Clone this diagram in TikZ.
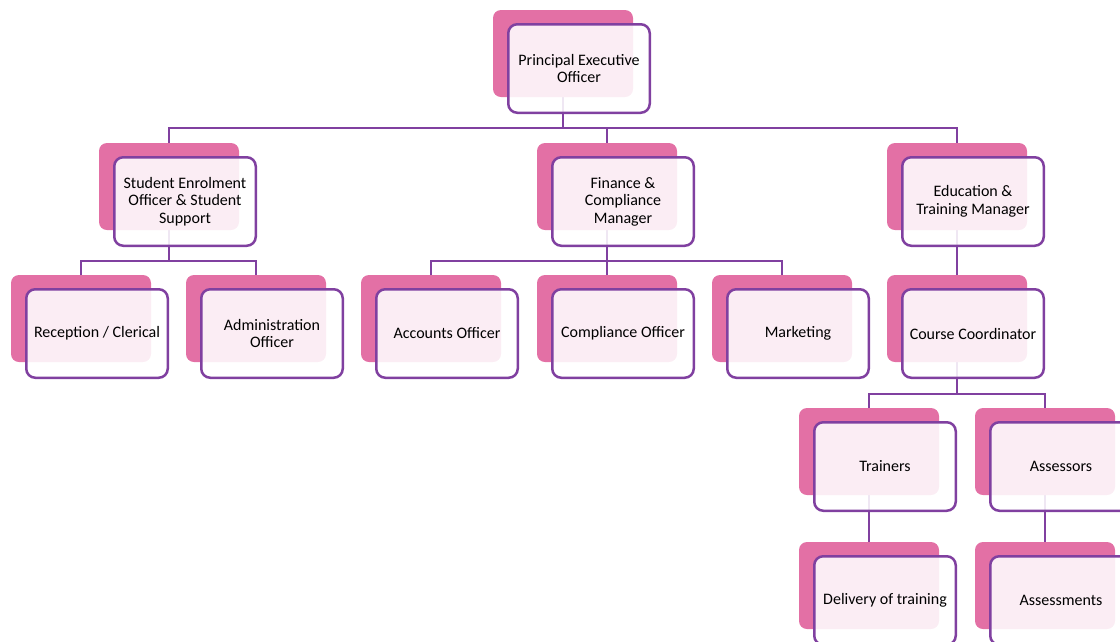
\documentclass[tikz,border=0pt]{standalone}
\usepackage{fontspec}
\setmainfont{Carlito}
\usetikzlibrary{calc}
\definecolor{pinkback}{RGB}{227,112,165}
\definecolor{purpline}{RGB}{128,64,160}
\pgfdeclarelayer{bg}
\pgfsetlayers{bg,main}
\tikzset{
  backbox/.style={fill=pinkback, draw=none, rounded corners=8pt, minimum width=140pt, minimum height=87pt, inner sep=0pt},
  frontbox/.style={fill=white, fill opacity=0.88, text opacity=1, draw=purpline, draw opacity=1, line width=2.5pt, rounded corners=9pt, minimum width=141.5pt, minimum height=88.5pt, inner sep=0pt, align=center, font=\fontsize{16}{17.6}\selectfont, text=black},
  conn/.style={draw=purpline, line width=2.5pt}
}
\newcommand\orgunit[4]{%
  \node[backbox] (#1b) at (#2+70,#3+43.5) {};
  \node[frontbox] (#1) at (#2+86,#3+58.5) {#4};
}
\begin{document}
\begin{tikzpicture}[x=1pt,y=-1pt]
\useasboundingbox (0,0) rectangle (1120,641);
\clip (0,0) rectangle (1120,641);
\orgunit{pe}{493}{10}{Principal Executive\\Officer}
\orgunit{se}{99}{143}{Student Enrolment\\Officer \& Student\\Support}
\orgunit{fc}{537}{143}{Finance \&\\Compliance\\Manager}
\orgunit{et}{887}{143}{Education \&\\Training Manager}
\orgunit{rc}{11}{275}{Reception / Clerical}
\orgunit{ad}{186}{275}{Administration\\Officer}
\orgunit{ac}{361}{275}{Accounts Officer}
\orgunit{co}{537}{275}{Compliance Officer}
\orgunit{mk}{712}{275}{Marketing}
\orgunit{cc}{887}{275}{Course Coordinator}
\orgunit{tr}{799}{408}{Trainers}
\orgunit{as}{975}{408}{Assessors}
\orgunit{dt}{799}{542}{Delivery of training}
\orgunit{am}{975}{542}{Assessments}
\begin{pgfonlayer}{bg}
\coordinate (bus1) at (peb.south |- 0,128);
\draw[conn] (peb.south) -- (bus1);
\draw[conn] (seb.north) |- (bus1) -| (etb.north);
\draw[conn] (bus1) -| (fcb.north);
\coordinate (bus2) at (seb.south |- 0,261);
\draw[conn] (seb.south) -- (bus2);
\draw[conn] (rcb.north) |- (bus2) -| (adb.north);
\coordinate (bus3) at (fcb.south |- 0,261);
\draw[conn] (fcb.south) -- (cob.north);
\draw[conn] (acb.north) |- (bus3) -| (mkb.north);
\draw[conn] (etb.south) -- (ccb.north);
\coordinate (bus4) at (ccb.south |- 0,394);
\draw[conn] (ccb.south) -- (bus4);
\draw[conn] (trb.north) |- (bus4) -| (asb.north);
\draw[conn] (trb.south) -- (dtb.north);
\draw[conn] (asb.south) -- (amb.north);
\end{pgfonlayer}
\end{tikzpicture}
\end{document}
